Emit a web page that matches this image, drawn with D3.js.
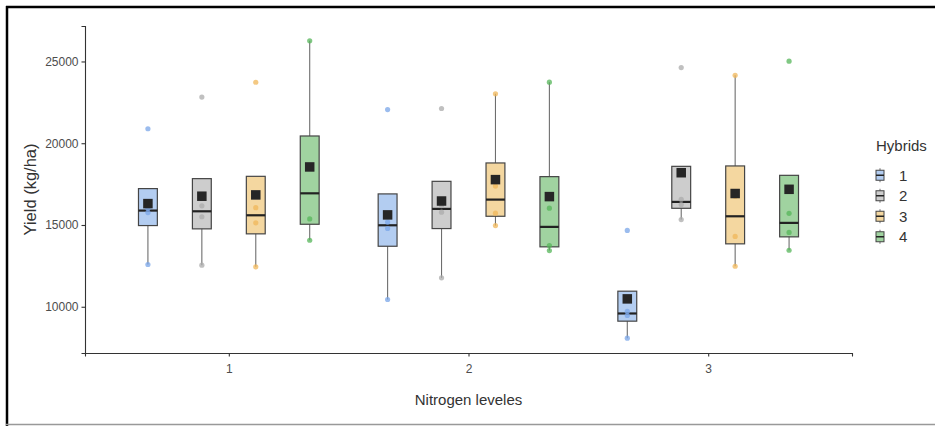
<html>
<head>
  <style>
  body {
    margin: 0;
    background: #fff;
  }
  svg text {
    font-family: "Liberation Sans", Arial, sans-serif;
  }
  </style>
</head>
<body>
  <div id="chart"></div>
  <script src="https://d3js.org/d3.v7.min.js"></script>
  <script>
  'use strict';

  // categories
  var nitrogen = ['1', '2', '3'];
  var hybrids = ['1', '2', '3', '4'];

  // yield (kg/ha), four replicates per nitrogen level, one array per hybrid
  var hybrid1 = [[12583, 15759, 16005, 20885], [10444, 14785, 15181, 22061], [8081, 9465, 9713, 14669]];
  var hybrid2 = [[12540, 15504, 16172, 22824], [11770, 15785, 16185, 22125], [15331, 16251, 16573, 24629]];
  var hybrid3 = [[12442, 15130, 16058, 23730], [14964, 15723, 17383, 23027], [12478, 14303, 16763, 24155]];
  var hybrid4 = [[14067, 15370, 18504, 26260], [13438, 13739, 16031, 23735], [13456, 14547, 15711, 25015]];

  var yTicks = [10000, 15000, 20000, 25000];

  var fills = ['#b3cdf1', '#cdcdcd', '#f4d7a0', '#a0d3a0'];
  var dots = ['#7aa5e8', '#ababab', '#f0b75a', '#55b55a'];

  var width = 935, height = 426;
  var mLeft = 85, mRight = 852, mTop = 26, mBottom = 353;

  var svg = d3.select('#chart').append('svg')
    .attr('width', width).attr('height', height)
    .style('display', 'block');

  // frame round the screenshot
  svg.append('line').attr('x1', 7).attr('x2', 7).attr('y1', 6).attr('y2', 426)
    .attr('stroke', '#000').attr('stroke-width', 2.5);
  svg.append('line').attr('x1', 6).attr('x2', 935).attr('y1', 7).attr('y2', 7)
    .attr('stroke', '#000').attr('stroke-width', 2.5);
  svg.append('line').attr('x1', 6).attr('x2', 935).attr('y1', 424.5).attr('y2', 424.5)
    .attr('stroke', '#999').attr('stroke-width', 1.5);

  var data = [];
  [hybrid1, hybrid2, hybrid3, hybrid4].forEach(function(h, hi) {
    h.forEach(function(vals, ni) {
      var s = vals.slice().sort(d3.ascending);
      var q1 = d3.quantile(s, 0.25), med = d3.quantile(s, 0.5), q3 = d3.quantile(s, 0.75);
      var iqr = q3 - q1;
      var lo = d3.min(s.filter(function(v) { return v >= q1 - 1.5 * iqr; }));
      var hiW = d3.max(s.filter(function(v) { return v <= q3 + 1.5 * iqr; }));
      data.push({ n: nitrogen[ni], h: hybrids[hi], hi: hi, vals: s, q1: q1, med: med, q3: q3,
                  lo: lo, hiW: hiW, mean: d3.mean(s) });
    });
  });

  var all = d3.merge(data.map(function(d) { return d.vals; }));
  var ext = d3.extent(all), pad = (ext[1] - ext[0]) * 0.05;

  var x = d3.scalePoint().domain(nitrogen).range([mLeft, mRight]).padding(0.6);
  var dodge = d3.scaleBand().domain(hybrids)
    .range([-0.45 * x.step(), 0.45 * x.step()]);
  var y = d3.scaleLinear().domain([ext[0] - pad, ext[1] + pad]).range([mBottom, mTop]);

  var bw = dodge.bandwidth() * 0.35;
  function cx(d) { return x(d.n) + dodge(d.h) + dodge.bandwidth() / 2; }

  // axes
  var yAxis = svg.append('g').attr('transform', 'translate(' + mLeft + ',0)')
    .call(d3.axisLeft(y).tickValues(yTicks).tickFormat(d3.format('d')).tickSize(3.5).tickPadding(3));
  var xAxis = svg.append('g').attr('transform', 'translate(0,' + mBottom + ')')
    .call(d3.axisBottom(x).tickSize(3.5).tickPadding(8));
  [xAxis, yAxis].forEach(function(a) {
    a.select('.domain').attr('stroke', '#333').attr('stroke-width', 1.1);
    a.selectAll('.tick line').attr('stroke', '#333').attr('stroke-width', 1.1);
    a.selectAll('.tick text').attr('fill', '#4d4d4d').style('font-size', '12px');
  });

  svg.append('text').attr('x', (mLeft + mRight) / 2).attr('y', 405)
    .attr('text-anchor', 'middle').style('font-size', '15px').attr('fill', '#333')
    .text('Nitrogen leveles');
  svg.append('text')
    .attr('transform', 'translate(36,' + ((mTop + mBottom) / 2 + 0) + ') rotate(-90)')
    .attr('text-anchor', 'middle').style('font-size', '16.5px').attr('fill', '#333')
    .text('Yield (kg/ha)');

  var g = svg.append('g');
  var box = g.selectAll('g.box').data(data).enter().append('g').attr('class', 'box');

  box.append('line')
    .attr('x1', cx).attr('x2', cx)
    .attr('y1', function(d) { return y(d.lo); })
    .attr('y2', function(d) { return y(d.hiW); })
    .attr('stroke', '#6e6e6e').attr('stroke-width', 1.1);

  box.append('rect')
    .attr('x', function(d) { return cx(d) - bw / 2; })
    .attr('width', bw)
    .attr('y', function(d) { return y(d.q3); })
    .attr('height', function(d) { return y(d.q1) - y(d.q3); })
    .attr('fill', function(d) { return fills[d.hi]; })
    .attr('stroke', '#454545').attr('stroke-width', 1.2);

  box.append('line')
    .attr('x1', function(d) { return cx(d) - bw / 2; })
    .attr('x2', function(d) { return cx(d) + bw / 2; })
    .attr('y1', function(d) { return y(d.med); })
    .attr('y2', function(d) { return y(d.med); })
    .attr('stroke', '#222').attr('stroke-width', 2.2);

  // raw points
  box.selectAll('circle').data(function(d) {
    return d.vals.map(function(v) { return { v: v, d: d }; });
  }).enter().append('circle')
    .attr('cx', function(p) { return cx(p.d); })
    .attr('cy', function(p) { return y(p.v); })
    .attr('r', 2.6)
    .attr('fill', function(p) { return dots[p.d.hi]; })
    .attr('fill-opacity', 0.75);

  // mean
  var ms = 9.5;
  box.append('rect')
    .attr('x', function(d) { return cx(d) - ms / 2; })
    .attr('y', function(d) { return y(d.mean) - ms / 2; })
    .attr('width', ms).attr('height', ms)
    .attr('fill', '#262626');

  // legend
  var leg = svg.append('g').attr('transform', 'translate(876,0)');
  leg.append('text').attr('x', 0).attr('y', 151).style('font-size', '15px')
    .attr('fill', '#333').text('Hybrids');
  var ly = d3.scaleBand().domain(hybrids).range([165, 247]);
  var item = leg.selectAll('g.item').data(hybrids).enter().append('g')
    .attr('transform', function(d) { return 'translate(0,' + (ly(d) + ly.bandwidth() / 2) + ')'; });
  item.append('line').attr('x1', 4).attr('x2', 4).attr('y1', -7).attr('y2', 7)
    .attr('stroke', '#6e6e6e');
  item.append('rect').attr('x', 0).attr('y', -5).attr('width', 8).attr('height', 10)
    .attr('fill', function(d, i) { return fills[i]; })
    .attr('stroke', '#454545').attr('stroke-width', 1);
  item.append('line').attr('x1', 0).attr('x2', 8).attr('y1', 0).attr('y2', 0)
    .attr('stroke', '#222').attr('stroke-width', 1.5);
  item.append('text').attr('x', 23).attr('y', 5.5).style('font-size', '15px')
    .attr('fill', '#333').text(function(d) { return d; });
  </script>
</body>
</html>
